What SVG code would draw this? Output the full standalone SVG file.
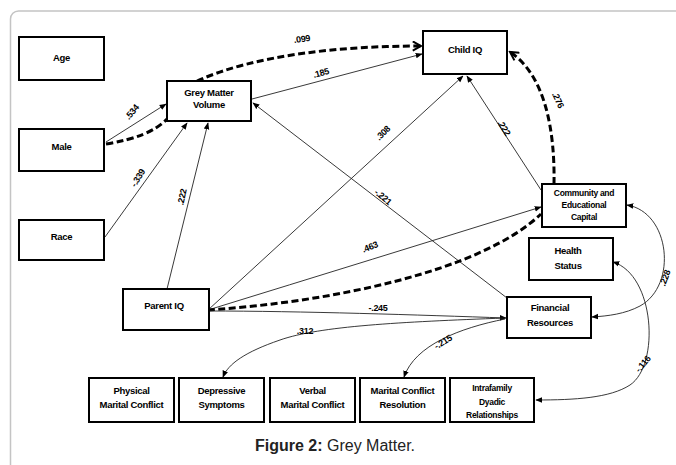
<svg xmlns="http://www.w3.org/2000/svg" width="676" height="465" viewBox="0 0 676 465">
<style>
.box{fill:#fff;stroke:#000;stroke-width:2}
.t{font-family:"Liberation Sans",Arial,sans-serif;font-weight:bold;font-size:9.5px;fill:#000;text-anchor:middle;letter-spacing:-0.3px}
.ts{font-size:8.5px}
.lab{font-family:"Liberation Sans",Arial,sans-serif;font-weight:bold;font-size:9px;fill:#000;text-anchor:middle;letter-spacing:-0.3px}
.ln{fill:none;stroke:#222;stroke-width:0.9}
.dl{fill:none;stroke:#000;stroke-width:3;stroke-dasharray:7 3.5}
.cap{font-family:"Liberation Sans",Arial,sans-serif;font-size:16px;fill:#222;text-anchor:middle}
</style>
<defs>
<marker id="ah" viewBox="0 0 10 10" refX="9" refY="5" markerWidth="7" markerHeight="7" markerUnits="userSpaceOnUse" orient="auto-start-reverse"><path d="M0,1 L10,5 L0,9 z" fill="#000"/></marker>
<marker id="ahd" viewBox="0 0 12 12" refX="10" refY="6" markerWidth="11" markerHeight="11" markerUnits="userSpaceOnUse" orient="auto-start-reverse"><path d="M1,1 L10,6 L1,11" fill="none" stroke="#000" stroke-width="2.2"/></marker>
</defs>
<rect width="676" height="465" fill="#fff"/>
<rect x="10.5" y="11" width="720" height="520" rx="8" fill="none" stroke="#c4c4c4" stroke-width="1.5"/>

<g id="connectors">
<path class="ln" d="M106,142 L166,104" marker-end="url(#ah)"/>
<path class="dl" d="M106,144 Q150,137 167,119"/>
<path class="dl" d="M197,81 C255,55 340,46 421,46" marker-end="url(#ahd)"/>
<path class="ln" d="M252,99 L422,54" marker-end="url(#ah)"/>
<path class="ln" d="M105,237 L187,123" marker-end="url(#ah)"/>
<path class="ln" d="M167,289 L208,123" marker-end="url(#ah)"/>
<path class="ln" d="M507,298 L253,103" marker-end="url(#ah)"/>
<path class="ln" d="M208,310 L463,76" marker-end="url(#ah)"/>
<path class="ln" d="M541,190 L467,76" marker-end="url(#ah)"/>
<path class="dl" d="M554,184 C555,130 545,75 510,52" marker-end="url(#ahd)"/>
<path class="ln" d="M208,310 Q370,260 541,207" marker-end="url(#ah)"/>
<path class="dl" d="M208,310 C330,302 480,272 541,214"/>
<path class="ln" d="M208,311 C300,311 420,315 506,318" marker-end="url(#ah)"/>
<path class="ln" d="M505,318 C400,322 320,326 280,340 C245,352 228,364 223,377" marker-end="url(#ah)"/>
<path class="ln" d="M505,319 C460,328 415,345 404,377" marker-end="url(#ah)"/>
<path class="ln" d="M627,205 C670,212 678,285 640,306 C625,314 608,316 592,317" marker-start="url(#ah)" marker-end="url(#ah)"/>
<path class="ln" d="M613,262 C655,275 660,365 630,385 C610,398 575,400 536,400" marker-start="url(#ah)" marker-end="url(#ah)"/>

<text class="lab" transform="translate(132,112) rotate(-50)" y="3">.534</text>
<text class="lab" transform="translate(302,39) rotate(-8)" y="3">.099</text>
<text class="lab" transform="translate(321,73) rotate(-15)" y="3">.185</text>
<text class="lab" transform="translate(138,178) rotate(-58)" y="3">-.339</text>
<text class="lab" transform="translate(182,197) rotate(-78)" y="3">.222</text>
<text class="lab" transform="translate(383,197) rotate(40)" y="3">-.221</text>
<text class="lab" transform="translate(383,133) rotate(-45)" y="3">.308</text>
<text class="lab" transform="translate(504,128) rotate(58)" y="3">.222</text>
<text class="lab" transform="translate(558,100) rotate(65)" y="3">.276</text>
<text class="lab" transform="translate(370,247) rotate(-22)" y="3">.463</text>
<text class="lab" transform="translate(378,308)" y="3">-.245</text>
<text class="lab" transform="translate(305,331)" y="3">.312</text>
<text class="lab" transform="translate(443,342) rotate(-32)" y="3">-.215</text>
<text class="lab" transform="translate(665,278) rotate(-70)" y="3">.228</text>
<text class="lab" transform="translate(643,364) rotate(-50)" y="3">-.116</text>
</g>

<g id="age"><rect class="box" x="19" y="37" width="85" height="43"/><text class="t" x="61.5" y="61">Age</text></g>
<g id="male"><rect class="box" x="19" y="129" width="85" height="42"/><text class="t" x="61.5" y="150">Male</text></g>
<g id="race"><rect class="box" x="19" y="220" width="85" height="40"/><text class="t" x="61.5" y="240">Race</text></g>
<g id="grey-matter"><rect class="box" x="167" y="81" width="84" height="40"/><text class="t" x="209" y="95.5">Grey Matter</text><text class="t" x="209" y="107.5">Volume</text></g>
<g id="child-iq"><rect class="box" x="423" y="31" width="84" height="43"/><text class="t" x="465" y="53">Child IQ</text></g>
<g id="parent-iq"><rect class="box" x="123" y="289" width="86" height="41"/><text class="t" x="164" y="309">Parent IQ</text></g>
<g id="community"><rect class="box" x="542" y="184" width="84" height="43"/><text class="t ts" x="584" y="196">Community and</text><text class="t ts" x="584" y="208">Educational</text><text class="t ts" x="584" y="220">Capital</text></g>
<g id="health"><rect class="box" x="529" y="238" width="84" height="42"/><text class="t" x="568" y="253.5">Health</text><text class="t" x="568" y="268.5">Status</text></g>
<g id="financial"><rect class="box" x="507" y="297" width="84" height="41"/><text class="t" x="550" y="310.5">Financial</text><text class="t" x="550" y="325.5">Resources</text></g>
<g id="physical"><rect class="box" x="89" y="378" width="85" height="44"/><text class="t" x="131.5" y="393.5">Physical</text><text class="t" x="131.5" y="407.5">Marital Conflict</text></g>
<g id="depressive"><rect class="box" x="179" y="378" width="85" height="44"/><text class="t" x="221.5" y="393.5">Depressive</text><text class="t" x="221.5" y="407.5">Symptoms</text></g>
<g id="verbal"><rect class="box" x="270" y="378" width="85" height="44"/><text class="t" x="312.5" y="393.5">Verbal</text><text class="t" x="312.5" y="407.5">Marital Conflict</text></g>
<g id="resolution"><rect class="box" x="360" y="378" width="85" height="44"/><text class="t" x="402.5" y="393.5">Marital Conflict</text><text class="t" x="402.5" y="407.5">Resolution</text></g>
<g id="intrafamily"><rect class="box" x="450" y="378" width="84" height="44"/><text class="t ts" x="492" y="391">Intrafamily</text><text class="t ts" x="492" y="405">Dyadic</text><text class="t ts" x="492" y="418">Relationships</text></g>

<text class="cap" x="335" y="451"><tspan font-weight="bold">Figure 2:</tspan> Grey Matter.</text>
</svg>
